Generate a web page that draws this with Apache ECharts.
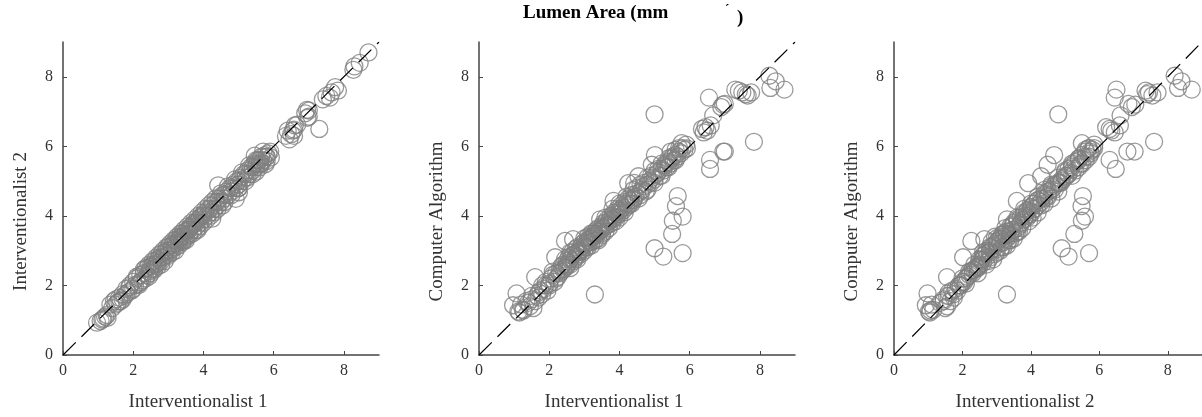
<!DOCTYPE html>
<html>
<head>
<meta charset="UTF-8">
<title>Lumen Area</title>
<script type="text/javascript" src="https://cdn.jsdelivr.net/npm/echarts@6/dist/echarts.min.js"></script>
<style>
html, body { margin: 0; padding: 0; background: #fff; }
</style>
</head>
<body>
<div id="main" style="width:1202px;height:417px"></div>
<script type="text/javascript">
// lumen area (mm^2) per vessel, one entry per measurement, same order in all three arrays
var interventionalist1 = [
  1.15,1.2,1.25,1.4,1.45,1.5,1.55,1.6,1.65,1.7,1.75,1.8,1.85,1.9,1.95,2.0,2.05,2.1,2.15,2.2,
  2.25,2.3,2.35,2.4,2.45,2.5,2.5,2.55,2.6,2.6,2.65,2.7,2.7,2.75,2.8,2.8,2.85,2.9,2.9,2.95,
  3.0,3.0,3.05,3.1,3.1,3.15,3.2,3.2,3.25,3.3,3.3,3.35,3.4,3.4,3.45,3.5,3.5,3.55,3.6,3.6,
  3.65,3.7,3.7,3.75,3.8,3.8,3.85,3.9,3.9,3.95,4.0,4.0,4.05,4.1,4.15,4.2,4.25,4.3,4.35,4.4,
  4.45,4.5,4.55,4.6,4.65,4.7,4.75,4.8,4.85,4.9,4.95,5.0,5.05,5.1,5.15,5.2,5.25,5.3,5.35,5.4,
  5.45,5.5,5.55,5.6,5.65,5.7,5.75,5.8,5.85,5.9,
  2.3,2.35,2.4,2.45,2.5,2.55,2.6,2.65,2.7,2.75,2.8,2.85,2.9,2.95,3.0,3.05,3.1,3.15,3.2,3.25,
  3.3,3.35,3.4,3.45,3.5,3.55,3.6,3.65,3.7,3.75,3.8,3.85,3.9,3.95,4.0,4.05,4.1,4.15,4.2,4.25,
  4.3,4.35,4.4,4.5,4.6,4.7,4.8,4.9,5.0,5.1,5.2,5.3,5.4,5.5,5.6,5.7,
  1.5,1.7,1.9,2.0,2.1,2.2,1.35,1.8,3.0,3.2,3.4,3.6,3.8,4.0,4.2,4.4,4.6,4.8,5.0,5.2,
  5.4,5.6,2.6,2.8,
  1.07,0.97,1.12,1.27,1.6,2.17,2.45,2.68,3.45,3.83,4.25,4.54,4.92,5.01,5.77,5.92,4.42,5.46,
  5.0,3.3,5.0,5.25,5.8,5.5,5.52,5.61,5.66,5.8,
  6.35,6.4,6.45,6.5,6.55,6.6,6.67,6.58,6.58,6.9,6.95,7.0,6.96,7.0,7.3,7.4,7.5,7.6,7.65,7.75,
  7.83,8.27,8.3,8.45,8.7
];
var interventionalist2 = [
  1.05,1.1,1.15,1.35,1.55,1.45,1.5,1.65,1.55,1.75,1.7,1.75,1.8,1.95,1.85,2.1,2.0,2.2,2.05,2.3,
  2.15,2.35,2.2,2.5,2.4,2.55,2.45,2.6,2.5,2.7,2.6,2.75,2.65,2.8,2.7,2.9,2.8,2.95,2.85,3.0,
  2.9,3.1,3.0,3.15,3.05,3.2,3.1,3.3,3.2,3.35,3.25,3.4,3.3,3.5,3.45,3.55,3.4,3.6,3.5,3.65,
  3.7,3.6,3.75,3.8,3.7,3.85,3.9,3.8,3.95,4.0,3.9,4.05,4.1,4.0,4.2,4.1,4.3,4.2,4.4,4.3,
  4.5,4.4,4.6,4.5,4.7,4.6,4.8,4.7,4.9,4.8,5.0,4.9,5.1,5.0,5.2,5.1,5.3,5.2,5.4,5.3,
  5.5,5.4,5.6,5.5,5.7,5.6,5.75,5.7,5.8,5.85,
  2.45,2.5,2.3,2.6,2.35,2.7,2.45,2.8,2.55,2.9,2.6,3.0,2.7,3.1,2.85,3.2,2.95,3.3,3.0,3.4,
  3.15,3.5,3.25,3.6,3.3,3.7,3.45,3.8,3.5,3.9,3.6,4.0,3.7,4.1,3.8,4.2,3.9,4.3,4.0,4.4,
  4.1,4.5,4.2,4.65,4.4,4.85,4.6,5.05,4.8,5.25,5.0,5.45,5.2,5.6,5.4,5.85,
  1.6,1.6,2.0,1.9,2.25,2.1,1.45,1.9,3.0,3.2,3.4,3.6,3.8,4.0,4.2,4.4,4.6,4.8,5.0,5.2,
  5.4,5.6,2.6,2.8,
  0.98,0.93,1.02,1.07,1.55,2.02,2.26,2.64,3.3,3.59,3.92,4.3,4.49,4.68,5.49,5.68,4.88,5.73,
  4.8,3.3,4.9,5.1,5.7,5.27,5.49,5.48,5.52,5.58,
  6.3,6.45,6.2,6.35,6.45,6.6,6.62,6.3,6.48,6.95,7.05,6.85,6.82,7.03,6.5,7.35,7.45,7.4,7.55,7.7,
  7.6,8.2,8.3,8.4,8.7
];
var computerAlgorithm = [
  1.22,1.45,1.3,1.5,1.4,1.6,1.35,1.55,1.7,1.65,1.85,1.75,1.9,2.0,1.85,2.05,2.2,2.3,2.1,2.35,
  2.25,2.45,2.4,2.6,2.5,2.7,2.55,2.65,2.75,2.6,2.85,2.7,2.9,2.8,2.95,2.75,3.0,2.9,3.1,3.05,
  3.15,3.0,3.2,3.1,3.3,3.25,3.35,3.15,3.4,3.3,3.5,3.45,3.55,3.35,3.6,3.5,3.7,3.65,3.8,3.55,
  3.75,3.85,3.65,3.9,3.8,4.0,3.95,4.1,3.85,4.05,4.15,3.95,4.2,4.25,4.1,4.35,4.3,4.45,4.35,4.5,
  4.55,4.65,4.5,4.7,4.75,4.85,4.7,4.9,5.0,4.95,5.1,5.05,5.2,5.25,5.15,5.35,5.3,5.45,5.4,5.55,
  5.5,5.65,5.6,5.75,5.7,5.85,5.8,5.95,5.9,6.05,
  2.35,2.55,2.45,2.75,2.6,2.8,2.5,2.95,2.75,3.05,2.85,2.95,3.0,3.2,3.25,3.1,3.4,3.35,3.25,3.5,
  3.45,3.6,3.65,3.55,3.45,3.8,3.7,3.9,3.75,4.0,3.9,4.1,3.95,4.2,4.05,4.3,4.15,4.4,4.25,4.5,
  4.35,4.6,4.45,4.8,4.6,4.95,4.75,5.15,4.95,5.35,5.15,5.5,5.4,5.7,5.6,5.95,
  1.7,1.8,2.1,2.0,2.4,2.2,1.55,2.0,3.35,3.5,3.3,3.95,4.2,4.35,4.55,4.75,4.9,5.1,5.3,5.5,
  5.65,5.9,2.95,3.1,
  1.77,1.43,1.25,1.28,2.24,2.81,3.28,3.33,3.9,4.43,4.94,5.14,5.47,5.75,6.09,5.94,4.95,5.85,
  6.92,1.74,3.07,2.83,2.93,3.48,3.86,4.28,4.57,3.98,
  6.5,6.4,6.55,6.45,7.4,6.6,6.89,5.61,5.35,7.13,7.2,7.22,5.85,5.85,7.63,7.6,7.55,7.5,7.46,7.55,
  6.13,8.03,7.68,7.87,7.63
];
var tickValues = [0, 2, 4, 6, 8];
var identityLine = [[0, 0], [9, 9]];

function pairs(xs, ys) {
  return xs.map(function (x, i) { return [x, ys[i]]; });
}

var panels = [
  { left: 63, xName: 'Interventionalist 1', yName: 'Interventionalist 2', data: pairs(interventionalist1, interventionalist2) },
  { left: 479, xName: 'Interventionalist 1', yName: 'Computer Algorithm', data: pairs(interventionalist1, computerAlgorithm) },
  { left: 894, xName: 'Interventionalist 2', yName: 'Computer Algorithm', data: pairs(interventionalist2, computerAlgorithm) }
];

var serif = 'Liberation Serif';
var axisColor = '#444';

function makeAxis(name, isY, idx) {
  return {
    type: 'value', gridIndex: idx, min: 0, max: 9,
    name: name, nameLocation: 'middle', nameGap: isY ? 32 : 38,
    nameTextStyle: {
      fontFamily: serif, fontSize: 19, color: '#333',
      padding: [0, 46, 0, 0]
    },
    axisLine: { show: true, lineStyle: { color: axisColor, width: 1.5 } },
    axisTick: { show: true, inside: true, length: 4, customValues: tickValues, lineStyle: { color: axisColor } },
    axisLabel: {
      fontFamily: serif, fontSize: 16, color: '#333', margin: isY ? 10 : 8,
      customValues: tickValues,
      padding: isY ? [0, 0, 10, 0] : 0
    },
    splitLine: { show: false }
  };
}

var myEcharts = echarts.init(document.getElementById('main'));

var option = {
  backgroundColor: '#fff',
  animation: false,
  title: [
    { text: 'Lumen Area (mm', left: 523, top: 4, padding: 0,
      textStyle: { fontFamily: serif, fontWeight: 'bold', fontSize: 19, color: '#000' } },
    { text: 'ˊ', left: 725, top: 3, padding: 0,
      textStyle: { fontFamily: serif, fontWeight: 'bold', fontSize: 13, color: '#000' } },
    { text: ')', left: 737, top: 9, padding: 0,
      textStyle: { fontFamily: serif, fontWeight: 'bold', fontSize: 19, color: '#000' } }
  ],
  grid: panels.map(function (p) {
    return { left: p.left, top: 42, width: 316, height: 316 };
  }),
  xAxis: panels.map(function (p, i) { return makeAxis(p.xName, false, i); }),
  yAxis: panels.map(function (p, i) { return makeAxis(p.yName, true, i); }),
  series: []
};

panels.forEach(function (p, i) {
  option.series.push({
    type: 'scatter', xAxisIndex: i, yAxisIndex: i,
    symbol: 'circle', symbolSize: 17,
    itemStyle: { color: 'rgba(0,0,0,0)', borderColor: '#808080', borderWidth: 1.3 },
    data: p.data, z: 2
  });
  option.series.push({
    type: 'line', xAxisIndex: i, yAxisIndex: i,
    showSymbol: false, silent: true,
    lineStyle: { color: '#000', width: 1.2, type: [18, 8] },
    data: identityLine, z: 3
  });
});

myEcharts.setOption(option);
</script>
</body>
</html>
